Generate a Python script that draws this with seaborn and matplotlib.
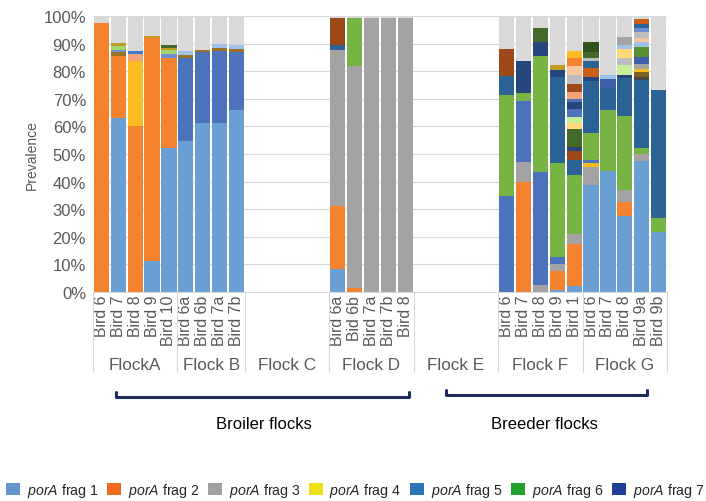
import matplotlib
matplotlib.use("Agg")

import matplotlib.pyplot as plt
import matplotlib.transforms as mtransforms
from matplotlib.patches import Patch
import pandas as pd
import seaborn as sns


# ==============================
# DATA (cumulative tops in %, bottom to top)
# ==============================
flock_names = ["FlockA", "Flock B", "Flock C", "Flock D", "Flock E", "Flock F", "Flock G"]
flock_slots = [5, 4, 5, 5, 5, 5, 5]

flock_a = [
    ("Bird 6", [("f2", 97.5)]),
    ("Bird 7", [("f1", 62.9), ("f2", 85.6), ("olive", 86.8), ("lblue3", 87.8), ("lgreen", 89.3), ("ochre", 90.2)]),
    ("Bird 8", [("f2", 60.3), ("f4", 83.8), ("salmon", 86.1), ("blue2", 87.3)]),
    ("Bird 9", [("f1", 11.4), ("f2", 91.9), ("ochre", 92.9)]),
    ("Bird 10", [("f1", 52.1), ("f2", 84.7), ("lblue3", 86.1), ("lgreen", 87.6), ("ochre", 88.4), ("dgreen", 89.6)]),
]

flock_b = [
    ("Bird 6a", [("f1", 54.7), ("f5", 84.9), ("olive", 86.0), ("lblue2", 87.4)]),
    ("Bird 6b", [("f1", 61.2), ("f5", 86.8), ("olive", 87.8)]),
    ("Bird 7a", [("f1", 61.2), ("f5", 87.4), ("olive", 88.5), ("lblue2", 89.9)]),
    ("Bird 7b", [("f1", 65.9), ("f5", 87.1), ("olive", 88.0), ("lblue2", 89.5)]),
]

flock_d = [
    ("Bird 6a", [("f1", 8.3), ("f2", 31.3), ("f3", 87.8), ("teal", 89.5), ("brown", 99.2)]),
    ("Bid 6b", [("f2", 1.3), ("f3", 81.8), ("f6", 99.2)]),
    ("Bird 7a", [("f3", 99.2)]),
    ("Bird 7b", [("f3", 99.2)]),
    ("Bird 8", [("f3", 99.2)]),
]

flock_f = [
    ("Bird 6", [("f5", 34.9), ("f6", 71.4), ("teal", 78.4), ("brown", 88.0)]),
    ("Bird 7", [("f2", 40.0), ("f3", 47.0), ("f5", 69.3), ("f6", 72.1), ("f7", 83.7)]),
    ("Bird 8", [("f3", 2.5), ("f5", 43.6), ("f6", 85.4), ("f7", 90.7), ("dgreen", 95.8)]),
    ("Bird 9", [("f1", 0.8), ("f2", 7.7), ("f3", 10.0), ("f5", 12.6), ("f6", 46.7), ("teal", 77.8),
                ("f7", 80.6), ("ochre", 82.2)]),
    ("Bird 1", [("f1", 2.1), ("f2", 17.3), ("f3", 21.0), ("f6", 42.5), ("teal", 47.9), ("brown", 51.2),
                ("f7", 52.4), ("dgreen", 59.1), ("lyellow", 61.2), ("pgreen", 63.3), ("f5", 66.3),
                ("f7", 68.7), ("f5", 69.9), ("salmon", 72.6), ("brown", 75.2), ("lgray", 78.6),
                ("peach", 82.0), ("f2", 84.8), ("f4", 87.3)]),
]

flock_g = [
    ("Bird 6", [("f1", 38.8), ("f3", 45.4), ("f4", 46.7), ("f5", 47.7), ("f6", 57.6), ("teal", 76.6),
                ("f7", 77.8), ("dorange", 81.0), ("teal", 83.7), ("lgray", 84.7), ("dgreen", 87.1),
                ("ddgreen", 90.5)]),
    ("Bird 7", [("f1", 43.8), ("f6", 65.9), ("teal", 73.8), ("blue3", 77.1), ("lblue2", 78.6)]),
    ("Bird 8", [("f1", 27.7), ("f2", 32.7), ("f3", 37.1), ("f6", 63.6), ("teal", 77.5), ("f7", 78.6),
                ("pgreen", 82.2), ("lgray", 84.7), ("lyellow", 88.0), ("lblue2", 89.5), ("f3", 92.5)]),
    ("Bird 9a", [("f1", 47.6), ("f3", 50.0), ("f6", 52.2), ("teal", 76.8), ("dgray", 78.0),
                 ("obrown", 79.8), ("f4", 80.8), ("f3", 82.6), ("blue3", 85.3), ("mgreen", 88.6),
                 ("lblue2", 90.5), ("peach", 91.9), ("lgray", 94.3), ("lblue3", 95.5), ("teal", 97.0),
                 ("dorange", 98.9)]),
    ("Bird 9b", [("f1", 21.6), ("f6", 26.7), ("teal", 73.3)]),
]

flocks = [flock_a, flock_b, [], flock_d, [], flock_f, flock_g]

seg_colors = {
    "f1": "#6a9fd4", "f2": "#f5822f", "f3": "#a3a3a3", "f4": "#fbbc22",
    "f5": "#4d73bc", "f6": "#78b443", "f7": "#28467e",
    "teal": "#2c6396", "brown": "#9c4818", "olive": "#987326", "ochre": "#c39a22",
    "dgreen": "#436a2a", "ddgreen": "#30521f", "mgreen": "#5a8f32", "lgreen": "#a0d870",
    "pgreen": "#c6ef9b", "lblue2": "#9dc3e6", "lblue3": "#6d8fd3", "blue2": "#3d7cc9",
    "blue3": "#3f5fa8", "salmon": "#f4a27a", "peach": "#f9c4a0", "lgray": "#bdbdbd",
    "lyellow": "#ffd97a", "dorange": "#cc5f16", "dgray": "#454545", "obrown": "#7f5f1f",
    "rest": "#d9d9d9",
}

legend_labels = [r"$\it{porA}$ frag " + str(i) for i in range(1, 8)]
legend_colors = ["#6495cd", "#ef6c1a", "#a0a0a0", "#efe116", "#2e75b6", "#23a02b", "#1f3f99"]

group_labels = ["Broiler flocks", "Breeder flocks"]


# ==============================
# STYLE
# ==============================
sns.set_style("white")
plt.rcParams["font.family"] = ["Liberation Sans", "DejaVu Sans"]
plt.rcParams["mathtext.fontset"] = "custom"
plt.rcParams["mathtext.it"] = "Liberation Sans:italic"
plt.rcParams["mathtext.rm"] = "Liberation Sans"

TXT = "#595959"
LINE = "#d9d9d9"


# ==============================
# LONG TABLE
# ==============================
rows = []
tick_pos, tick_lab = [], []
slot = 0
for name, n, birds in zip(flock_names, flock_slots, flocks):
    for i, (bird, segs) in enumerate(birds):
        x = slot + i
        bottom = 0
        for key, top in segs:
            rows.append({"x": x, "key": key, "bottom": bottom, "height": top - bottom})
            bottom = top
        rows.append({"x": x, "key": "rest", "bottom": bottom, "height": 100 - bottom})
        tick_pos.append(x)
        tick_lab.append(bird)
    slot += n

df = pd.DataFrame(rows)


# ==============================
# PLOT
# ==============================
fig = plt.figure(figsize=(7.06, 5.02), dpi=100)
ax = fig.add_axes([93 / 706, 1 - 293 / 502, 574 / 706, 276 / 502])

for key, g in df.groupby("key", sort=False):
    ax.bar(g["x"], g["height"], bottom=g["bottom"], width=0.9,
           color=seg_colors[key], linewidth=0, zorder=2)

n_slots = sum(flock_slots)
ax.set_xlim(-0.5, n_slots - 0.5)
ax.set_ylim(0, 100)
ax.set_yticks(range(0, 101, 10))
ax.set_yticklabels([f"{v}%" for v in range(0, 101, 10)])
ax.yaxis.grid(True, color=LINE, linewidth=0.8)
ax.set_axisbelow(True)
for s in ["top", "right", "left"]:
    ax.spines[s].set_visible(False)
ax.spines["bottom"].set_color(LINE)
ax.spines["bottom"].set_linewidth(0.8)

ax.tick_params(axis="y", length=0, pad=5, labelsize=12, labelcolor=TXT)
ax.set_xticks(tick_pos)
ax.set_xticklabels(tick_lab, rotation=90, fontsize=11.4, color=TXT)
ax.tick_params(axis="x", length=0, pad=2)

ax.set_ylabel("Prevalence", fontsize=10, color=TXT)
ax.yaxis.set_label_coords(-0.095, 0.5)

# flock separators and labels
trans = mtransforms.blended_transform_factory(ax.transData, ax.transAxes)
edges = [-0.5]
for n in flock_slots:
    edges.append(edges[-1] + n)
for e in edges:
    ax.plot([e, e], [0, -0.29], transform=trans, clip_on=False, color=LINE, lw=0.8)
for name, a, b in zip(flock_names, edges[:-1], edges[1:]):
    ax.text((a + b) / 2, -0.261, name, transform=trans, ha="center", va="center",
            fontsize=12.3, color=TXT)

# brackets
NAVY = "#1f2b5c"
brackets = [(0.040, 0.5505, -0.380, 0.298), (0.615, 0.965, -0.373, 0.786)]
for (x0, x1, yb, xt), lab in zip(brackets, group_labels):
    ax.plot([x0, x0, x1, x1], [yb + 0.018, yb, yb, yb + 0.018], transform=ax.transAxes,
            clip_on=False, color=NAVY, lw=2.2, solid_capstyle="round", solid_joinstyle="round")
    ax.text(xt, -0.478, lab, transform=ax.transAxes, ha="center", va="center",
            fontsize=12, color="black")

# legend
handles = [Patch(facecolor=c, edgecolor="none") for c in legend_colors]
fig.legend(handles, legend_labels, loc="center", bbox_to_anchor=(0.503, 1 - 491 / 502),
           ncol=7, frameon=False, fontsize=10.2, handlelength=1.0, handleheight=1.0,
           handletextpad=0.45, columnspacing=0.62, borderaxespad=0, borderpad=0)

plt.savefig("out.png", dpi=100)
plt.close()
